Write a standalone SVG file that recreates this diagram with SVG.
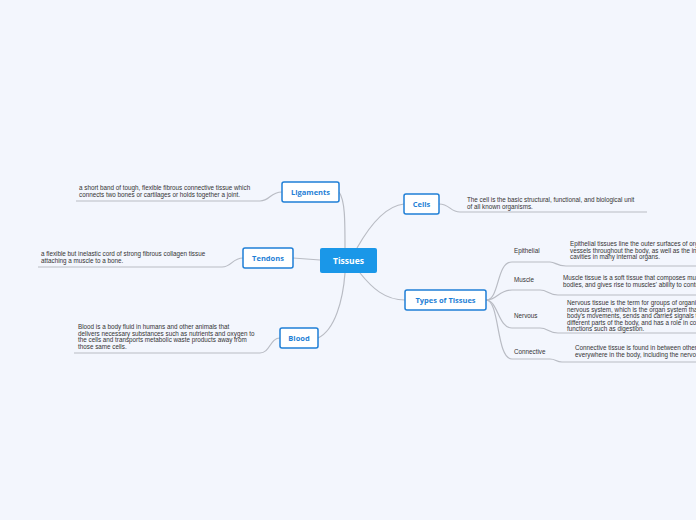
<svg xmlns="http://www.w3.org/2000/svg" width="696" height="520" viewBox="0 0 696 520">
<style>
.bg{fill:#f3f6fd}
.n rect{fill:#fff;stroke:#1f7fd6;stroke-width:1.5}
.n text{font-family:"Open Sans","Liberation Sans",sans-serif;font-size:7.5px;font-weight:bold;fill:#1f7fd6;text-anchor:middle}
.t{font-family:"Liberation Sans",sans-serif;font-size:6.3px;fill:#333}
.c path{fill:none;stroke:#b9bcc4;stroke-width:1.2}
</style>
<rect class="bg" width="696" height="520"/>
<g class="c">
<path d="M345 248 C345 220 345 200 339 192"/>
<path d="M320 260 L293 258"/>
<path d="M345 273 C343 300 335 330 318 338"/>
<path d="M357 248 C370 225 385 206 404 204"/>
<path d="M360 273 C372 288 385 300 405 300"/>
<path d="M282 192 C270 192 270 201 260 201 L76 201"/>
<path d="M243 258 C232 258 232 267 222 267 L38 267"/>
<path d="M280 338 C270 338 270 353 260 353 L74 353"/>
<path d="M439 204 C450 204 450 212 460 212 L647 212"/>
<path d="M486 300 C500 300 496 262 512 262 L550 262 C556 262 556 266 566 266 L696 266"/>
<path d="M486 300 C498 300 498 290 512 290 L540 290 C548 290 548 295 558 295 L696 295"/>
<path d="M486 300 C498 300 498 328 512 328 L540 328 C548 328 548 333 558 333 L696 333"/>
<path d="M486 300 C500 300 496 359 512 359 L550 359 C556 359 556 362 562 362 L696 362"/>
</g>
<g id="tissues"><rect x="320" y="248" width="57" height="25" rx="2" fill="#1a97e8"/><text x="348.5" y="264" font-family="Open Sans,Liberation Sans,sans-serif" font-size="8.5" font-weight="bold" fill="#fff" text-anchor="middle">Tissues</text></g>
<g id="ligaments" class="n"><rect x="282" y="182" width="57" height="20" rx="2"/><text x="310.5" y="194.5">Ligaments</text></g>
<g id="tendons" class="n"><rect x="243" y="248" width="50" height="20" rx="2"/><text x="268" y="260.5">Tendons</text></g>
<g id="blood" class="n"><rect x="280" y="328" width="38" height="20" rx="2"/><text x="299" y="340.5">Blood</text></g>
<g id="cells" class="n"><rect x="404" y="194" width="35" height="20" rx="2"/><text x="421.5" y="206.5">Cells</text></g>
<g id="types" class="n"><rect x="405" y="290" width="81" height="20" rx="2"/><text x="445.5" y="302.5">Types of Tissues</text></g>
<g class="t">
<text x="79" y="190">a short band of tough, flexible fibrous connective tissue which</text>
<text x="79" y="196.5">connects two bones or cartilages or holds together a joint.</text>
<text x="41" y="256">a flexible but inelastic cord of strong fibrous collagen tissue</text>
<text x="41" y="262.5">attaching a muscle to a bone.</text>
<text x="78" y="329">Blood is a body fluid in humans and other animals that</text>
<text x="78" y="335.5">delivers necessary substances such as nutrients and oxygen to</text>
<text x="78" y="342">the cells and transports metabolic waste products away from</text>
<text x="78" y="348.5">those same cells.</text>
<text x="467" y="202">The cell  is the basic structural, functional, and biological unit</text>
<text x="467" y="208.5">of all known organisms.</text>
<text x="514" y="253">Epithelial</text>
<text x="514" y="282">Muscle</text>
<text x="514" y="318">Nervous</text>
<text x="514" y="354">Connective</text>
<text x="570" y="246">Epithelial tissues line the outer surfaces of organs and blood</text>
<text x="570" y="252.5">vessels throughout the body, as well as the inner surfaces of</text>
<text x="570" y="259">cavities in many internal organs.</text>
<text x="563" y="280">Muscle tissue is a soft tissue that composes muscles in animal</text>
<text x="563" y="286.5">bodies, and gives rise to muscles' ability to contract.</text>
<text x="567" y="305">Nervous tissue is the term for groups of organized cells in the</text>
<text x="567" y="311.5">nervous system, which is the organ system that controls the</text>
<text x="567" y="318">body's movements, sends and carries signals to and from the</text>
<text x="567" y="324.5">different parts of the body, and has a role in controlling bodily</text>
<text x="567" y="331">functions such as digestion.</text>
<text x="575" y="350">Connective tissue is found in between other tissues</text>
<text x="575" y="356.5">everywhere in the body, including the nervous system.</text>
</g>
</svg>
